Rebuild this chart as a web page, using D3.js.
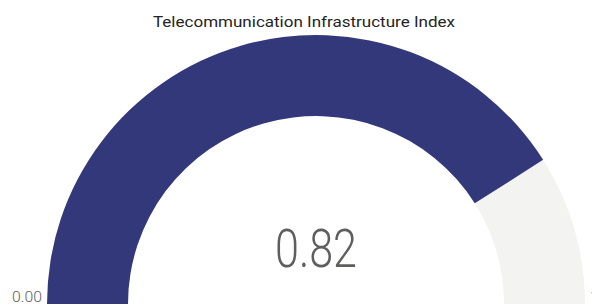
<!DOCTYPE html>
<html><head><meta charset="utf-8">
<script src="https://cdn.jsdelivr.net/npm/d3@7"></script>
<style>body{margin:0;background:#fff;overflow:hidden}</style>
</head><body>
<svg id="c" width="592" height="305"></svg>
<script>
const title = "Telecommunication Infrastructure Index";
const gaugeValue = [0.82];
const gaugeRange = [0, 1];
const rangeLabels = ["0.00", "1.00"];

const svg = d3.select("#c");
const cx = 316, cy = 304, rOut = 269, rIn = 188;
const angle = d3.scaleLinear().domain(gaugeRange).range([-Math.PI/2, Math.PI/2]);
const g = svg.append("g").attr("transform", `translate(${cx},${cy})`);
const arc = d3.arc().innerRadius(rIn).outerRadius(rOut);
g.append("path").attr("d", arc({startAngle: angle(gaugeRange[0]), endAngle: angle(gaugeRange[1])})).attr("fill", "#F3F3F2");
g.append("path").attr("d", arc({startAngle: angle(gaugeRange[0]), endAngle: angle(gaugeValue[0])})).attr("fill", "#33387A");

svg.append("text").attr("x", 304).attr("y", 27).attr("text-anchor", "middle")
  .attr("textLength", 302).attr("lengthAdjust", "spacingAndGlyphs")
  .style("font-family", "Roboto, sans-serif").style("font-weight", 400).style("font-size", "15px").attr("fill", "#252423").text(title);

svg.append("text").attr("x", cx).attr("y", 267).attr("text-anchor", "middle")
  .attr("textLength", 82).attr("lengthAdjust", "spacingAndGlyphs")
  .style("font-family", "Roboto, sans-serif").style("font-weight", 300).style("font-size", "54px").attr("fill", "#605E5C")
  .text(d3.format(".2f")(gaugeValue[0]));

svg.append("text").attr("x", 42).attr("y", 302).attr("text-anchor", "end")
  .attr("textLength", 30).attr("lengthAdjust", "spacingAndGlyphs")
  .style("font-family", "Roboto, sans-serif").style("font-weight", 300).style("font-size", "15.5px").attr("fill", "#605E5C").text(rangeLabels[0]);
svg.append("text").attr("x", 590).attr("y", 302).attr("text-anchor", "start")
  .style("font-family", "Roboto, sans-serif").style("font-weight", 300).style("font-size", "15.5px").attr("fill", "#605E5C").text(rangeLabels[1]);
</script>
</body></html>
